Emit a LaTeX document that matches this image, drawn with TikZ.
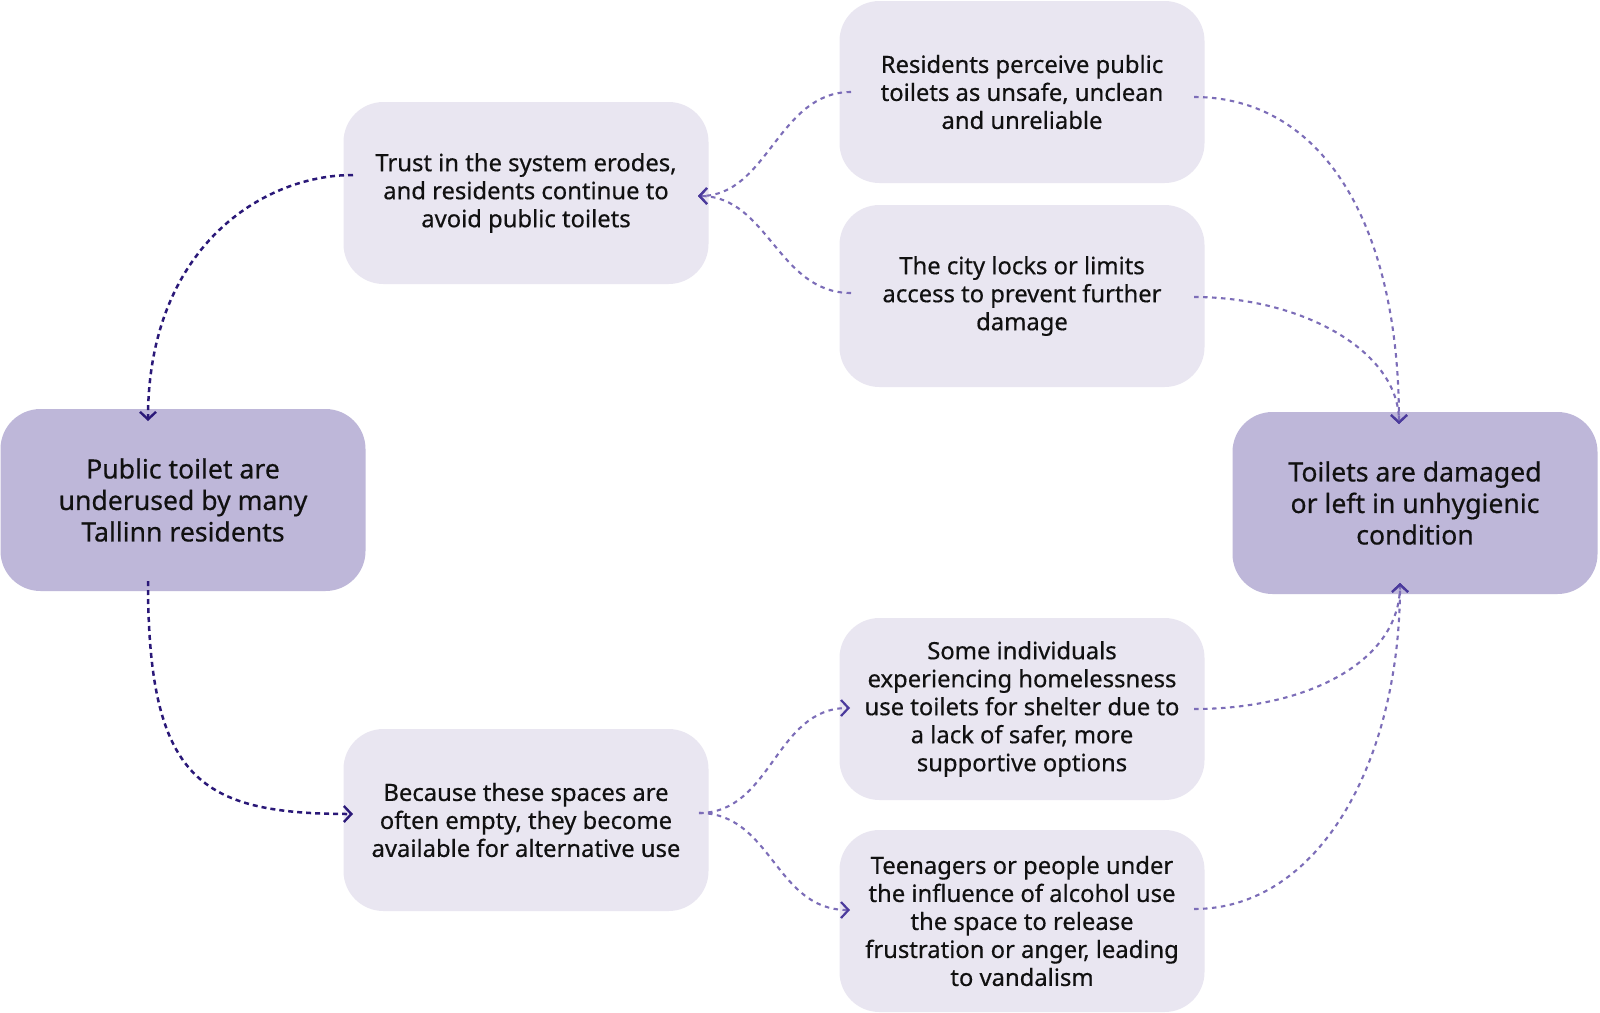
\documentclass[tikz,border=0pt]{standalone}
\usepackage{fontspec}
\setmainfont{Noto Sans}
\newfontfamily\boxfont{Noto Sans}[FakeBold=0.5]
\usetikzlibrary{arrows.meta}
\definecolor{lightbox}{HTML}{E9E6F1}
\definecolor{darkbox}{HTML}{BEB7D9}
\definecolor{darkline}{HTML}{2A1878}
\definecolor{lightline}{HTML}{7C6DB8}
\definecolor{tipcol}{HTML}{4B3A9C}
\definecolor{txt}{HTML}{111111}
\tikzset{
  lbox/.style={fill=lightbox, rounded corners=40pt, minimum width=365pt, minimum height=182pt,
    align=center, inner sep=0pt, text=txt, font=\boxfont\fontsize{23.8}{28}\selectfont},
  dbox/.style={fill=darkbox, rounded corners=40pt, minimum width=365pt, minimum height=182pt,
    align=center, inner sep=0pt, text=txt, font=\boxfont\fontsize{26.6}{31.5}\selectfont},
  darkconn/.style={draw=darkline, line width=2.5pt, dash pattern=on 5pt off 4pt,
    -{Straight Barb[length=7.5pt,width=16pt,line width=2.4pt,color=darkline]}},
  lightconn/.style={draw=lightline, line width=2.1pt, dash pattern=on 4.5pt off 4.5pt,
    -{Straight Barb[length=7.5pt,width=16pt,line width=2.2pt,color=tipcol]}},
}
\begin{document}
\begin{tikzpicture}[x=1pt,y=-1pt]
\useasboundingbox (0,0) rectangle (1600,1012);
\fill[white] (0,0) rectangle (1600,1012);

\node[dbox] (pub) at (183,500) {Public toilet are\\underused by many\\Tallinn residents};
\node[dbox] (dam) at (1415,503) {Toilets are damaged\\or left in unhygienic\\condition};
\node[lbox] (trust) at (526,193) {Trust in the system erodes,\\and residents continue to\\avoid public toilets};
\node[lbox] (perc) at (1022,92) {Residents perceive public\\toilets as unsafe, unclean\\and unreliable};
\node[lbox] (city) at (1022,296) {The city locks or limits\\access to prevent further\\damage};
\node[lbox] (some) at (1022,709) {Some individuals\\experiencing homelessness\\use toilets for shelter due to\\a lack of safer, more\\supportive options};
\node[lbox] (teen) at (1022,921) {Teenagers or people under\\the influence of alcohol use\\the space to release\\frustration or anger, leading\\to vandalism};
\node[lbox] (bec) at (526,820) {Because these spaces are\\often empty, they become\\available for alternative use};

% connector end points
\coordinate (trustOut) at (353,175);
\coordinate (pubIn) at (148,421);
\coordinate (pubOut) at (148,581);
\coordinate (becIn) at (353,814);
\coordinate (trustIn) at (698,196);
\coordinate (percL) at (851,92);
\coordinate (cityL) at (851,293);
\coordinate (percR) at (1194,97);
\coordinate (cityR) at (1194,297);
\coordinate (damTop) at (1399,424);
\coordinate (damBot) at (1400,583);
\coordinate (becOut) at (699,813);
\coordinate (someL) at (850,708);
\coordinate (teenL) at (850,910);
\coordinate (someR) at (1194,709);
\coordinate (teenR) at (1194,909);

\draw[darkconn] (trustOut) .. controls (260,175) and (148,250) .. (pubIn);
\draw[darkconn] (pubOut) .. controls (148,780) and (200,814) .. (becIn);

\draw[lightconn] (percL) .. controls (778,92) and (768,196) .. (trustIn);
\draw[lightconn] (cityL) .. controls (778,293) and (768,196) .. (trustIn);
\draw[lightconn] (percR) .. controls (1320,97) and (1399,220) .. (damTop);
\draw[lightconn] (cityR) .. controls (1300,297) and (1399,350) .. (damTop);

\draw[lightconn] (becOut) .. controls (772,813) and (775,708) .. (someL);
\draw[lightconn] (becOut) .. controls (772,813) and (775,910) .. (teenL);
\draw[lightconn] (someR) .. controls (1310,709) and (1400,660) .. (damBot);
\draw[lightconn] (teenR) .. controls (1320,909) and (1400,760) .. (damBot);
\end{tikzpicture}
\end{document}
